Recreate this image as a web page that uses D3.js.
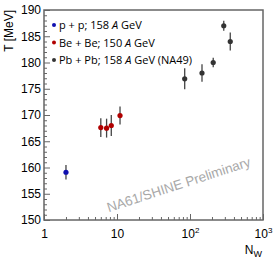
<!DOCTYPE html>
<html>
<head>
<meta charset="utf-8">
<script src="https://cdn.jsdelivr.net/npm/d3@7"></script>
<style>
body { margin: 0; background: #fff; }
text { font-family: "Liberation Sans", Arial, sans-serif; }
</style>
</head>
<body>
<svg id="chart" width="274" height="263"></svg>
<script>
// data
var ppN = [2], ppT = [159.1], ppErr = [1.4];
var beN = [6.0, 7.2, 8.35, 11], beT = [167.6, 167.5, 168.0, 169.9], beErr = [1.8, 1.8, 2.0, 1.7];
var pbN = [84.6, 146, 208, 290, 356], pbT = [176.9, 178.0, 180.0, 187.0, 184.0], pbErr = [2.0, 1.65, 0.9, 0.95, 1.7];
var legendLabels = ["p + p; 158 ", "Be + Be; 150 ", "Pb + Pb; 158 "];
var legendTails = [" GeV", " GeV", " GeV (NA49)"];
var yTicks = [150, 155, 160, 165, 170, 175, 180, 185, 190];
var xTicks = [1, 10, 100, 1000];

var svg = d3.select("#chart");
var m = {left: 44, top: 10, right: 263, bottom: 220};

var x = d3.scaleLog().domain([1, 1000]).range([m.left, m.right]);
var y = d3.scaleLinear().domain([150, 190]).range([m.bottom, m.top]);

var axisColor = "#666";

// minor ticks
var xMinor = [];
[1, 10, 100].forEach(function (d) { for (var i = 2; i < 10; i++) xMinor.push(d * i); });
var yMinor = d3.range(150, 191, 1).filter(function (d) { return d % 5 !== 0; });

svg.append("g").attr("transform", "translate(0," + m.bottom + ")")
    .call(d3.axisBottom(x).tickValues(xMinor).tickFormat("").tickSize(-3).tickSizeOuter(0))
    .call(function (g) { g.select(".domain").remove(); g.selectAll("line").attr("stroke", axisColor); });
svg.append("g").attr("transform", "translate(" + m.left + ",0)")
    .call(d3.axisLeft(y).tickValues(yMinor).tickFormat("").tickSize(-3).tickSizeOuter(0))
    .call(function (g) { g.select(".domain").remove(); g.selectAll("line").attr("stroke", axisColor); });

// major axes
var gx = svg.append("g").attr("transform", "translate(0," + m.bottom + ")")
    .call(d3.axisBottom(x).tickValues(xTicks).tickSize(-6).tickSizeOuter(0).tickPadding(9)
        .tickFormat(function (d) { return d; }));
gx.select(".domain").remove();
gx.selectAll("line").attr("stroke", axisColor);
gx.selectAll("text").attr("font-size", 12).attr("fill", "#000").each(function (d) {
    var t = d3.select(this);
    if (d >= 100) {
        t.text("10");
        t.append("tspan").attr("dy", -5).attr("font-size", 8).text(Math.round(Math.log10(d)));
    }
});

var gy = svg.append("g").attr("transform", "translate(" + m.left + ",0)")
    .call(d3.axisLeft(y).tickValues(yTicks).tickSize(-6).tickSizeOuter(0).tickPadding(3));
gy.select(".domain").remove();
gy.selectAll("line").attr("stroke", axisColor);
gy.selectAll("text").attr("font-size", 12).attr("fill", "#000");

// frame
svg.append("rect").attr("x", m.left).attr("y", m.top)
    .attr("width", m.right - m.left).attr("height", m.bottom - m.top)
    .attr("fill", "none").attr("stroke", axisColor).attr("stroke-width", 1.5);

// axis titles
svg.append("text").attr("transform", "translate(13," + m.top + ") rotate(-90)")
    .attr("text-anchor", "end").attr("font-size", 12).text("T [MeV]");
var nw = svg.append("text").attr("x", m.right - 1).attr("y", 254).attr("text-anchor", "end").attr("font-size", 12);
nw.append("tspan").text("N");
nw.append("tspan").attr("dy", 3).attr("font-size", 9).text("W");

// watermark
svg.append("text").attr("transform", "translate(180,189) rotate(-18)")
    .attr("text-anchor", "middle").attr("font-size", 13.5).attr("fill", "#a8a8a8")
    .text("NA61/SHINE Preliminary");

// series
var series = [
    {n: ppN, t: ppT, e: ppErr, color: "#1010b0"},
    {n: beN, t: beT, e: beErr, color: "#b00000"},
    {n: pbN, t: pbT, e: pbErr, color: "#333333"}
];
series.forEach(function (s) {
    var pts = s.n.map(function (d, i) { return {n: d, t: s.t[i], e: s.e[i]}; });
    var g = svg.append("g");
    g.selectAll("line").data(pts).enter().append("line")
        .attr("x1", function (d) { return x(d.n); }).attr("x2", function (d) { return x(d.n); })
        .attr("y1", function (d) { return y(d.t - d.e); }).attr("y2", function (d) { return y(d.t + d.e); })
        .attr("stroke", "#444").attr("stroke-width", 1.3);
    g.selectAll("circle").data(pts).enter().append("circle")
        .attr("cx", function (d) { return x(d.n); }).attr("cy", function (d) { return y(d.t); })
        .attr("r", 2.6).attr("fill", s.color);
});

// legend
var lg = svg.append("g");
legendLabels.forEach(function (lab, i) {
    var yy = 25 + i * 17.5;
    lg.append("circle").attr("cx", 54).attr("cy", yy).attr("r", 2).attr("fill", series[i].color);
    var t = lg.append("text").attr("x", 59).attr("y", yy + 4).attr("font-size", 11)
        .style("font-family", "'Open Sans', 'DejaVu Sans', sans-serif");
    t.append("tspan").text(lab);
    t.append("tspan").attr("font-style", "italic").text("A");
    t.append("tspan").text(legendTails[i]);
});
</script>
</body>
</html>
